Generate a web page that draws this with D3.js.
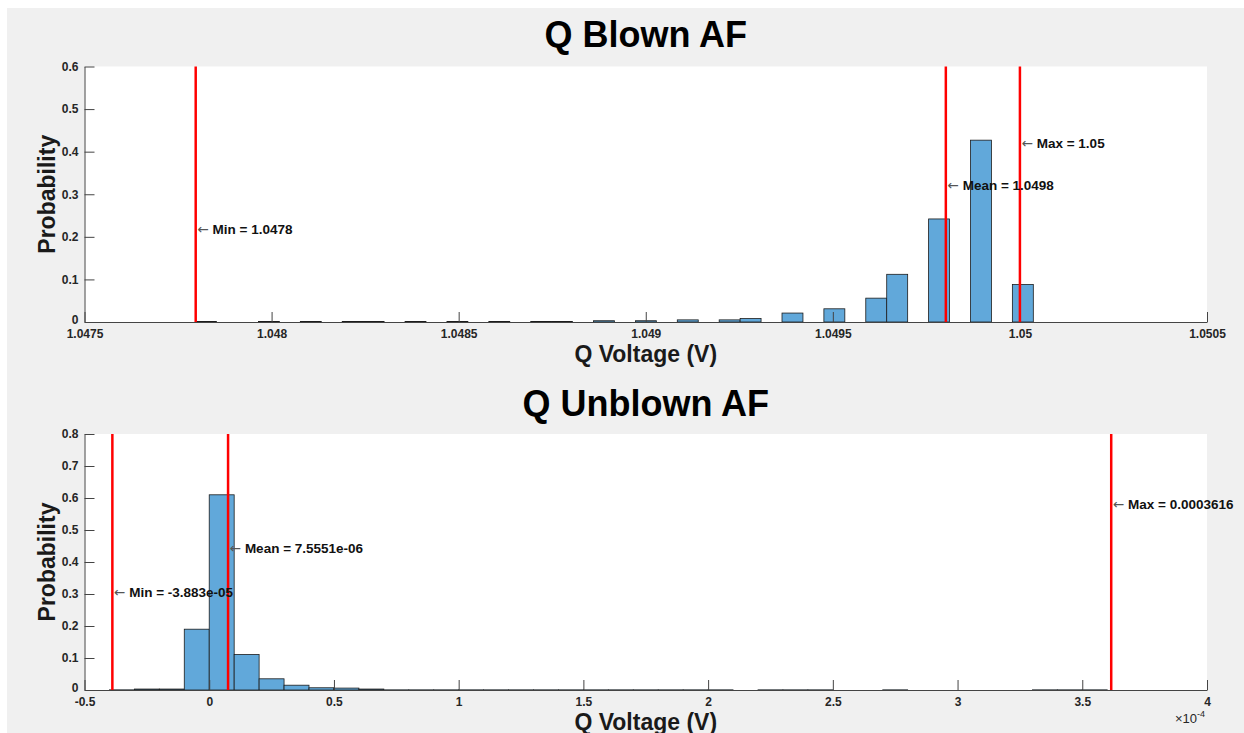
<!DOCTYPE html>
<html><head><meta charset="utf-8">
<script src="https://cdn.jsdelivr.net/npm/d3@7"></script>
<style>body{margin:0;background:#fff}svg{display:block}</style>
</head><body><svg id="c" width="1244" height="733"></svg>
<script>
// ---------- DATA ----------
const blownTitle = "Q Blown AF";
const blownBinStart = 1.047797;
const blownBinWidth = 5.597e-5;
const blownProb = [
  0.001, 0, 0, 0.001, 0, 0.001, 0, 0.001, 0.001, 0,
  0.001, 0, 0.001, 0, 0.001, 0, 0.001, 0.001, 0, 0.003,
  0, 0.003, 0, 0.005, 0, 0.005, 0.008, 0, 0.021, 0,
  0.031, 0, 0.056, 0.112, 0, 0.242, 0, 0.427, 0, 0.088
];
const blownXTicks = [1.0475, 1.048, 1.0485, 1.049, 1.0495, 1.05, 1.0505];
const blownXTickLabels = ["1.0475", "1.048", "1.0485", "1.049", "1.0495", "1.05", "1.0505"];
const blownYTicks = [0, 0.1, 0.2, 0.3, 0.4, 0.5, 0.6];
const blownYTickLabels = ["0", "0.1", "0.2", "0.3", "0.4", "0.5", "0.6"];
const blownStatValues = [1.0477972, 1.049802, 1.0500];
const blownStatLabels = ["Min = 1.0478", "Mean = 1.0498", "Max = 1.05"];
const blownStatTextY = [0.218, 0.322, 0.420];

const unblownTitle = "Q Unblown AF";
const unblownBinStart = -4e-5;
const unblownBinWidth = 1e-5;
const unblownProb = [
  0.0005, 0.003, 0.003, 0.19, 0.61, 0.111, 0.035, 0.015, 0.007, 0.006,
  0.003, 0.0005, 0.0005, 0.0005, 0.0005, 0.0005, 0.0005, 0.0005, 0.0005, 0.0005,
  0.0005, 0.0005, 0.0005, 0.0005, 0.0005, 0, 0.0005, 0.0005, 0.0005, 0,
  0, 0.0005, 0, 0, 0, 0, 0, 0.0005, 0.0005, 0.0005,
  0
];
const unblownXTicks = [-0.5e-4, 0, 0.5e-4, 1e-4, 1.5e-4, 2e-4, 2.5e-4, 3e-4, 3.5e-4, 4e-4];
const unblownXTickLabels = ["-0.5", "0", "0.5", "1", "1.5", "2", "2.5", "3", "3.5", "4"];
const unblownYTicks = [0, 0.1, 0.2, 0.3, 0.4, 0.5, 0.6, 0.7, 0.8];
const unblownYTickLabels = ["0", "0.1", "0.2", "0.3", "0.4", "0.5", "0.6", "0.7", "0.8"];
const unblownStatValues = [-3.883e-05, 7.5551e-06, 0.0003616];
const unblownStatLabels = ["Min = -3.883e-05", "Mean = 7.5551e-06", "Max = 0.0003616"];
const unblownStatTextY = [0.306, 0.444, 0.581];

const xLabelText = "Q Voltage (V)";
const yLabelText = "Probability";

// ---------- DRAW ----------
const svg = d3.select("#c");
svg.append("rect").attr("x", 7).attr("y", 8).attr("width", 1237).attr("height", 725).attr("fill", "#f0f0f0");

const FONT = "'Liberation Sans', Arial, Helvetica, sans-serif";

function panel(cfg) {
  const {left, right, top, bottom} = cfg.box;
  const x = d3.scaleLinear().domain(cfg.xDomain).range([left, right]);
  const y = d3.scaleLinear().domain(cfg.yDomain).range([bottom, top]);
  const g = svg.append("g");

  g.append("rect").attr("x", left).attr("y", top).attr("width", right - left).attr("height", bottom - top).attr("fill", "#fff");

  // bars
  const bins = cfg.prob.map((v, i) => ({v, x0: cfg.binStart + i * cfg.binWidth, x1: cfg.binStart + (i + 1) * cfg.binWidth}))
    .filter(d => d.v > 0);
  g.selectAll("rect.bar").data(bins).enter().append("rect")
    .attr("class", "bar")
    .attr("x", d => x(d.x0))
    .attr("width", d => x(d.x1) - x(d.x0))
    .attr("y", d => y(d.v))
    .attr("height", d => y(0) - y(d.v))
    .attr("fill", "#61a8da")
    .attr("stroke", "#1c1c1c")
    .attr("stroke-width", 0.8);

  // axes
  const xAxis = d3.axisBottom(x).tickValues(cfg.xTicks).tickFormat((d, i) => cfg.xTickLabels[i])
    .tickSize(-10).tickSizeOuter(0).tickPadding(7);
  const yAxis = d3.axisLeft(y).tickValues(cfg.yTicks).tickFormat((d, i) => cfg.yTickLabels[i])
    .tickSize(-10).tickSizeOuter(0).tickPadding(6);
  const gx = g.append("g").attr("transform", `translate(0,${bottom})`).call(xAxis);
  const gy = g.append("g").attr("transform", `translate(${left},0)`).call(yAxis);
  [gx, gy].forEach(a => {
    a.select(".domain").attr("stroke", "#444").attr("stroke-width", 1);
    a.selectAll(".tick line").attr("stroke", "#444").attr("stroke-width", 1);
    a.selectAll(".tick text").attr("fill", "#262626").attr("font-family", FONT)
      .attr("font-weight", "bold").attr("font-size", 12);
  });
  // lift the y "0" label a touch so it clears the first x label
  gy.selectAll(".tick text").filter((d, i) => i === 0).attr("dy", "0.1em");

  // stat lines
  g.selectAll("line.stat").data(cfg.statValues).enter().append("line")
    .attr("x1", d => x(d)).attr("x2", d => x(d))
    .attr("y1", top).attr("y2", bottom)
    .attr("stroke", "#ff0000").attr("stroke-width", 2.5);

  // stat labels
  const t = g.selectAll("text.stat").data(cfg.statValues).enter().append("text")
    .attr("x", d => x(d) + 1.5)
    .attr("y", (d, i) => y(cfg.statTextY[i]))
    .attr("dy", "0.35em")
    .attr("font-size", 13.5);
  t.append("tspan").attr("font-family", "'DejaVu Sans', sans-serif").attr("fill", "#555")
    .attr("font-weight", "normal").text("\u2190");
  t.append("tspan").attr("font-family", FONT).attr("font-weight", "bold").attr("fill", "#111")
    .attr("dx", 4).text((d, i) => cfg.statLabels[i]);

  // title
  svg.append("text").attr("x", (left + right) / 2).attr("y", cfg.titleY)
    .attr("text-anchor", "middle").attr("font-family", FONT).attr("font-weight", "bold")
    .attr("font-size", 36).attr("fill", "#000").text(cfg.title);
  // x label
  svg.append("text").attr("x", (left + right) / 2).attr("y", cfg.xLabelY)
    .attr("text-anchor", "middle").attr("font-family", FONT).attr("font-weight", "bold")
    .attr("font-size", 23).attr("fill", "#1a1a1a").text(xLabelText);
  // y label
  svg.append("text").attr("transform", `translate(55,${(top + bottom) / 2}) rotate(-90)`)
    .attr("text-anchor", "middle").attr("font-family", FONT).attr("font-weight", "bold")
    .attr("font-size", 23).attr("fill", "#1a1a1a").text(yLabelText);
  return {x, y};
}

panel({
  box: {left: 84.5, right: 1207, top: 66.5, bottom: 322},
  xDomain: [1.0475, 1.0505], yDomain: [0, 0.6],
  prob: blownProb, binStart: blownBinStart, binWidth: blownBinWidth,
  xTicks: blownXTicks, xTickLabels: blownXTickLabels,
  yTicks: blownYTicks, yTickLabels: blownYTickLabels,
  statValues: blownStatValues, statLabels: blownStatLabels, statTextY: blownStatTextY,
  title: blownTitle, titleY: 47, xLabelY: 362
});

panel({
  box: {left: 84.5, right: 1207, top: 434, bottom: 690},
  xDomain: [-0.5e-4, 4e-4], yDomain: [0, 0.8],
  prob: unblownProb, binStart: unblownBinStart, binWidth: unblownBinWidth,
  xTicks: unblownXTicks, xTickLabels: unblownXTickLabels,
  yTicks: unblownYTicks, yTickLabels: unblownYTickLabels,
  statValues: unblownStatValues, statLabels: unblownStatLabels, statTextY: unblownStatTextY,
  title: unblownTitle, titleY: 416, xLabelY: 729.5
});

// exponent label
const ex = svg.append("text").attr("x", 1175).attr("y", 723).attr("font-family", FONT)
  .attr("font-size", 13).attr("fill", "#262626");
ex.append("tspan").text("\u00d710");
ex.append("tspan").attr("dy", -6).attr("font-size", 9).text("-4");
</script></body></html>
